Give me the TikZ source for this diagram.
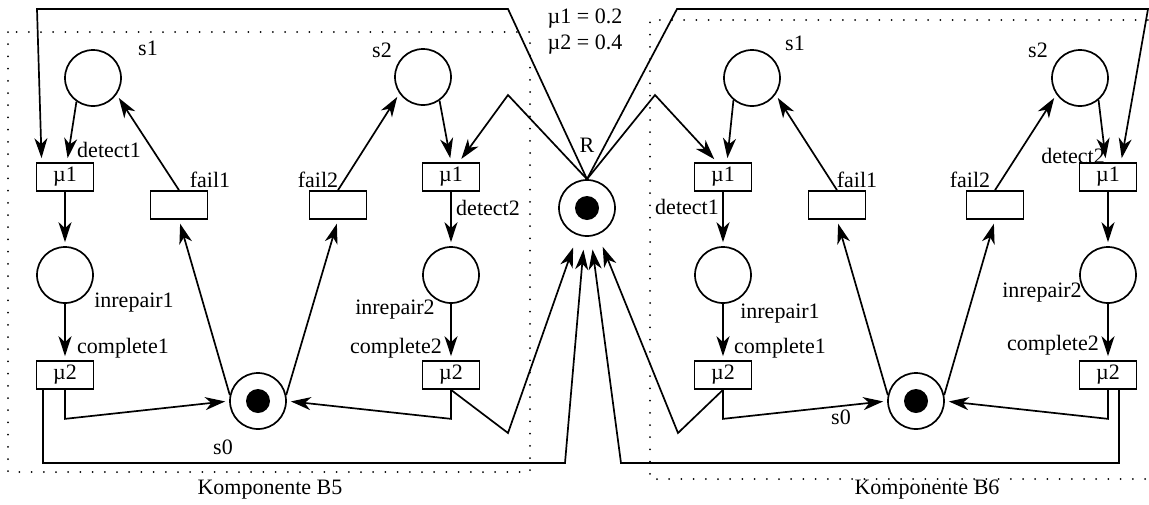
\documentclass[tikz,border=0pt]{standalone}
\usepackage{fontspec}
\setmainfont{Liberation Serif}
\usetikzlibrary{arrows.meta}

\begin{document}
\begin{tikzpicture}[x=1pt, y=-1pt, line width=1.7pt,
    place/.style={circle, draw, minimum size=56pt, inner sep=0pt},
    trans/.style={rectangle, draw, minimum width=57pt, minimum height=28pt, inner sep=0pt},
    lbl/.style={inner sep=0pt},
    arc/.style={-{Stealth[length=20pt,width=13pt,inset=6pt]}, shorten >=4pt},
    toR/.style={arc, shorten >=13pt},
    frame/.style={line width=2pt, line cap=round, dash pattern=on 0pt off 12.2pt},
    font=\fontsize{22}{26}\selectfont]
\useasboundingbox (0,0) rectangle (1149,504);

% component frames
\draw[frame] (8,32) rectangle (530,472);
\draw[frame] (1160,20) -- (650,20) -- (650,479) -- (1160,479);
\node[lbl] (nameA) at (270,490) {Komponente B5};
\node[lbl] (nameB) at (927,490) {Komponente B6};

% shared repair resource
\node[place] (R) at (587,208) {};
\fill (R.center) circle[radius=12pt];
\node[lbl] (lR) at (587,145) {R};
\node[lbl, align=left] (rates) at (585,32) {µ1 = 0.2\\µ2 = 0.4};

% component B5
\node[place] (s1A) at (93,78) {};
\node[place] (s2A) at (423,77) {};
\node[trans] (det1A) at (65,177) {µ1};
\node[trans] (fail1A) at (179,205) {};
\node[trans] (fail2A) at (338,205) {};
\node[trans] (det2A) at (451,177) {µ1};
\node[place] (rep1A) at (65,275) {};
\node[place] (rep2A) at (451,275) {};
\node[trans] (compl1A) at (65,375) {µ2};
\node[trans] (compl2A) at (451,375) {µ2};
\node[place] (s0A) at (258,401) {};
\fill (s0A.center) circle[radius=12pt];

\node[lbl] at (148,48) {s1};
\node[lbl] at (382,50) {s2};
\node[lbl] at (109,150) {detect1};
\node[lbl] at (210,180) {fail1};
\node[lbl] at (318,180) {fail2};
\node[lbl] at (488,208) {detect2};
\node[lbl] at (134,303) {inrepair1};
\node[lbl] at (395,310) {inrepair2};
\node[lbl] at (123,348) {complete1};
\node[lbl] at (396,348) {complete2};
\node[lbl] at (223,447) {s0};

% component B6
\node[place] (s1B) at (752,78) {};
\node[place] (s2B) at (1080,78) {};
\node[trans] (det1B) at (723,177) {µ1};
\node[trans] (fail1B) at (837,205) {};
\node[trans] (fail2B) at (995,205) {};
\node[trans] (det2B) at (1108,177) {µ1};
\node[place] (rep1B) at (723,275) {};
\node[place] (rep2B) at (1108,275) {};
\node[trans] (compl1B) at (723,375) {µ2};
\node[trans] (compl2B) at (1108,375) {µ2};
\node[place] (s0B) at (916,401) {};
\fill (s0B.center) circle[radius=12pt];

\node[lbl] at (795,43) {s1};
\node[lbl] at (1038,50) {s2};
\node[lbl] at (687,207) {detect1};
\node[lbl] at (857,180) {fail1};
\node[lbl] at (970,180) {fail2};
\node[lbl] at (1073,156) {detect2};
\node[lbl] at (780,314) {inrepair1};
\node[lbl] at (1042,293) {inrepair2};
\node[lbl] at (780,348) {complete1};
\node[lbl] at (1053,345) {complete2};
\node[lbl] at (841,417) {s0};

% bend points of the long arcs
\coordinate (roofA) at (508,9);
\coordinate (roofA2) at (37,9);
\coordinate (peakA) at (508,95);
\coordinate (bendA) at (508,433);
\coordinate (baseA) at (565,463);
\coordinate (roofB) at (677,9);
\coordinate (roofB2) at (1148,9);
\coordinate (peakB) at (655,95);
\coordinate (bendB) at (678,433);
\coordinate (baseB) at (621,463);

% arcs of B5
\draw[arc] (s1A.235) -- ([xshift=2pt]det1A.north);
\draw[arc] (fail1A.north) -- (s1A.-35);
\draw[arc] (det1A) -- (rep1A);
\draw[arc] (rep1A) -- (compl1A);
\draw[arc] (compl1A.south) -- ++(0,29) -- (s0A.west);
\draw[arc] (s0A.168) -- (fail1A.south);
\draw[arc] (s0A.12) -- (fail2A.south);
\draw[arc] (fail2A.north) -- (s2A.215);
\draw[arc] (s2A.-55) -- (det2A.north);
\draw[arc] (det2A) -- (rep2A);
\draw[arc] (rep2A) -- (compl2A);
\draw[arc] (compl2A.south) -- ++(0,29) -- (s0A.east);

% arcs of B6
\draw[arc] (s1B.-130) -- ([xshift=4pt]det1B.north);
\draw[arc] (fail1B.north) -- (s1B.-35);
\draw[arc] (det1B) -- (rep1B);
\draw[arc] (rep1B) -- (compl1B);
\draw[arc] (compl1B.south) -- ++(0,29) -- (s0B.west);
\draw[arc] (s0B.168) -- (fail1B.south);
\draw[arc] (s0B.12) -- (fail2B.south);
\draw[arc] (fail2B.north) -- (s2B.215);
\draw[arc] (s2B.-50) -- ([xshift=-2pt]det2B.north);
\draw[arc] (det2B) -- (rep2B);
\draw[arc] (rep2B) -- (compl2B);
\draw[arc] (compl2B.south) -- ++(0,29) -- (s0B.east);

% resource R taken by detect, given back by complete
\draw[arc] (R.north) -- (roofA) -- (roofA2) -- ([xshift=6pt]det1A.north west);
\draw[arc] (R.north) -- (peakA) -- ([xshift=8pt]det2A.north);
\draw[arc] (R.north) -- (peakB) -- ([xshift=-6pt]det1B.north);
\draw[arc] (R.north) -- (roofB) -- (roofB2) -- ([xshift=13pt]det2B.north);
\draw[toR] (compl2A.south) -- (bendA) -- (R);
\draw[toR] ([xshift=-22pt]compl1A.south) |- (baseA) -- (R);
\draw[toR] (compl1B.south) -- (bendB) -- (R);
\draw[toR] ([xshift=11pt]compl2B.south) |- (baseB) -- (R);
\end{tikzpicture}
\end{document}
